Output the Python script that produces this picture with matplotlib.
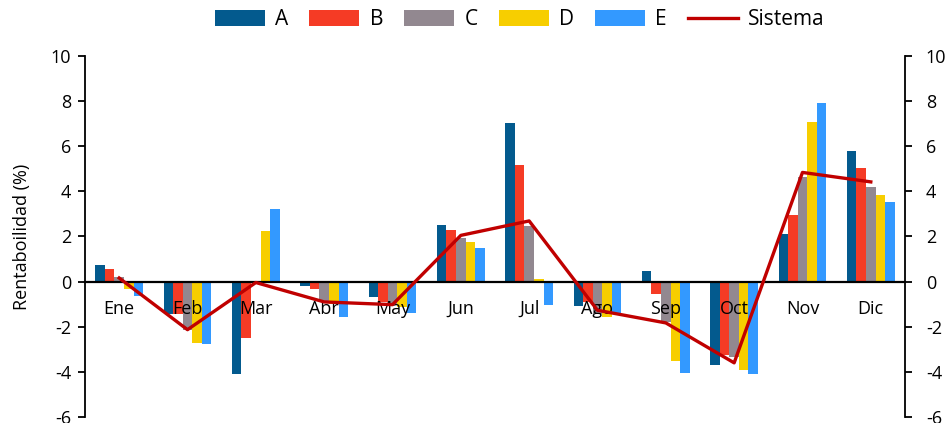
import matplotlib.pyplot as plt
import matplotlib.transforms as mtransforms
import numpy as np

months = ["Ene", "Feb", "Mar", "Abr", "May", "Jun",
          "Jul", "Ago", "Sep", "Oct", "Nov", "Dic"]

serie_a = [0.72, -1.42, -4.08, -0.18, -0.69, 2.53, 7.02, -1.06, 0.46, -3.71, 2.13, 5.78]
serie_b = [0.55, -1.42, -2.48, -0.32, -0.92, 2.27, 5.16, -0.92, -0.53, -3.26, 2.97, 5.02]
serie_c = [0.22, -2.15, 0.0, -0.92, -0.99, 1.94, 2.47, -1.43, -1.80, -3.34, 4.62, 4.19]
serie_d = [-0.34, -2.72, 2.26, -0.99, -1.14, 1.74, 0.10, -1.58, -3.53, -3.93, 7.06, 3.86]
serie_e = [-0.63, -2.78, 3.20, -1.58, -1.39, 1.51, -1.02, -1.43, -4.05, -4.10, 7.93, 3.54]
sistema = [0.16, -2.13, -0.04, -0.90, -1.02, 2.05, 2.69, -1.27, -1.83, -3.60, 4.84, 4.42]

series_names = ["A", "B", "C", "D", "E"]
series_colors = ["#035A8E", "#F53B25", "#928890", "#F7CE00", "#3399FF"]

plt.rcParams['font.family'] = ['Open Sans', 'DejaVu Sans']
plt.rcParams['axes.unicode_minus'] = False

fig = plt.figure(figsize=(9.52, 4.23), dpi=100)
ax = fig.add_axes([0.0893, 0.0142, 0.8613, 0.8534])

x = np.arange(len(months))
width = 0.14
all_series = [serie_a, serie_b, serie_c, serie_d, serie_e]
for i, (vals, name, col) in enumerate(zip(all_series, series_names, series_colors)):
    ax.bar(x + (i - 2) * width, vals, width, color=col, label=name, zorder=2)

ax.plot(x, sistema, color="#C00000", linewidth=2.4, label="Sistema", zorder=4)

ax.set_xlim(-0.5, len(months) - 0.5)
ax.set_ylim(-6, 10)
ax.set_yticks(range(-6, 11, 2))
ax.set_xticks(x)
ax.set_xticklabels([])

# month labels just under the zero line, drawn over the bars
lab_trans = mtransforms.offset_copy(ax.transData, fig=fig, y=-27, units='dots')
for xi, m in zip(x, months):
    ax.text(xi, 0, m, transform=lab_trans, ha='center', va='center',
            fontsize=13, zorder=3)

ax.spines['top'].set_visible(False)
ax.spines['right'].set_visible(False)
ax.spines['bottom'].set_position(('data', 0))
ax.spines['bottom'].set_linewidth(1.6)
ax.spines['bottom'].set_zorder(3)
ax.spines['left'].set_linewidth(1.3)
ax.tick_params(axis='x', length=0)
ax.tick_params(axis='y', direction='out', length=5, width=1.3, labelsize=13, pad=5)
ax.set_ylabel("Rentaboilidad (%)", fontsize=13, labelpad=14)

ax2 = ax.twinx()
ax2.set_ylim(-6, 10)
ax2.set_yticks(range(-6, 11, 2))
for s in ['top', 'left', 'bottom']:
    ax2.spines[s].set_visible(False)
ax2.spines['right'].set_linewidth(1.3)
ax2.tick_params(axis='y', direction='out', length=5, width=1.3, labelsize=13, pad=10)

handles, labels = ax.get_legend_handles_labels()
order = [1, 2, 3, 4, 5, 0]
fig.legend([handles[i] for i in order], [labels[i] for i in order],
           loc='center', bbox_to_anchor=(0.546, 0.953), ncol=6,
           frameon=False, fontsize=15, handlelength=2.4, handleheight=0.8,
           columnspacing=1.0, handletextpad=0.5)

plt.savefig("out.png", dpi=100)
